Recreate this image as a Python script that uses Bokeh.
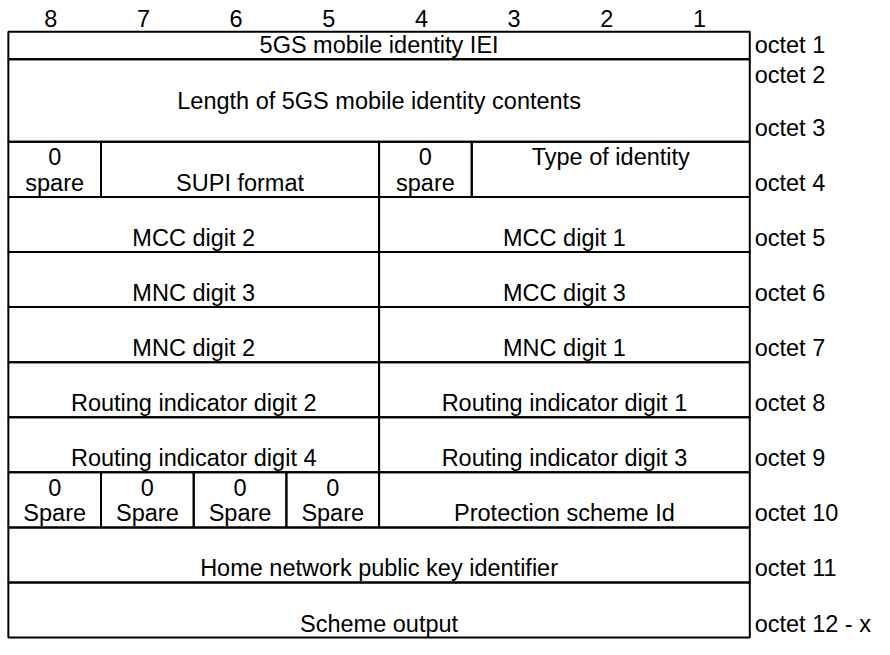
from bokeh.plotting import figure
from bokeh.models import Range1d, ColumnDataSource
from bokeh.embed import file_html
from bokeh.resources import INLINE
from bokeh.core.properties import value

# ---- data ----
bit_labels = ["8", "7", "6", "5", "4", "3", "2", "1"]
bit_numbers = [8, 7, 6, 5, 4, 3, 2, 1]

# rows of the table, height in line units
row_units = [1, 3, 2, 2, 2, 2, 2, 2, 2, 2, 2]

octet_labels = ["octet 1", "octet 2", "octet 3", "octet 4", "octet 5", "octet 6",
                "octet 7", "octet 8", "octet 9", "octet 10", "octet 11", "octet 12 - x"]
octet_rows = [0, 1, 1, 2, 3, 4, 5, 6, 7, 8, 9, 10]
octet_line = [0, 2, 0, 0, 0, 0, 0, 0, 0, 0, 0, 0]   # text line counted from bottom of row

cell_rows = [0, 1, 2, 2, 2, 2, 3, 3, 4, 4, 5, 5, 6, 6, 7, 7, 8, 8, 8, 8, 8, 9, 10]
cell_hi = [8, 8, 8, 7, 4, 3, 8, 4, 8, 4, 8, 4, 8, 4, 8, 4, 8, 7, 6, 5, 4, 8, 8]
cell_lo = [1, 1, 8, 5, 4, 1, 5, 1, 5, 1, 5, 1, 5, 1, 5, 1, 8, 7, 6, 5, 1, 1, 1]
cell_texts = [
    ["5GS mobile identity IEI"],
    ["Length of 5GS mobile identity contents", ""],
    ["0", "spare"],
    ["SUPI format"],
    ["0", "spare"],
    ["Type of identity", ""],
    ["MCC digit 2"],
    ["MCC digit 1"],
    ["MNC digit 3"],
    ["MCC digit 3"],
    ["MNC digit 2"],
    ["MNC digit 1"],
    ["Routing indicator digit 2"],
    ["Routing indicator digit 1"],
    ["Routing indicator digit 4"],
    ["Routing indicator digit 3"],
    ["0", "Spare"],
    ["0", "Spare"],
    ["0", "Spare"],
    ["0", "Spare"],
    ["Protection scheme Id"],
    ["Home network public key identifier"],
    ["Scheme output"],
]

# ---- layout (reference pixel space 890 x 655, scaled into the figure) ----
RW, RH = 890, 655
W, H = 874, 639
X0, X1 = 8, 763
Y0, Y1 = 32, 653
FONT = "Liberation Sans"
FS = "23.5px"
LINE = 27
BOT = 6
MID = 8.4   # baseline -> vertical centre of capitals

col_w = (X1 - X0) / 8.0
unit = (Y1 - Y0) / float(sum(row_units))
row_top = []
acc = Y0
for u in row_units:
    row_top.append(acc)
    acc += u * unit
row_bot = [t + u * unit for t, u in zip(row_top, row_units)]


def bit_left(b):
    return X0 + (8 - b) * col_w


def bit_right(b):
    return X0 + (9 - b) * col_w


p = figure(width=W, height=H, x_range=Range1d(0, RW), y_range=Range1d(RH, 0),
           output_backend="svg", toolbar_location=None, min_border=0)
p.axis.visible = False
p.grid.visible = False
p.outline_line_color = None
p.background_fill_color = "white"
p.border_fill_color = "white"

# cells
cell_src = ColumnDataSource(dict(
    left=[bit_left(h) for h in cell_hi],
    right=[bit_right(l) for l in cell_lo],
    top=[row_top[r] for r in cell_rows],
    bottom=[row_bot[r] for r in cell_rows],
))
p.quad(left="left", right="right", top="top", bottom="bottom", source=cell_src,
       fill_color=None, line_color="black", line_width=2)

# cell texts
tx, ty, tt = [], [], []
for r, h, l, lines in zip(cell_rows, cell_hi, cell_lo, cell_texts):
    cx = (bit_left(h) + bit_right(l)) / 2.0
    n = len(lines)
    for i, s in enumerate(lines):
        if not s:
            continue
        k = n - 1 - i
        tx.append(cx)
        ty.append(row_bot[r] - BOT - k * LINE - MID)
        tt.append(s)
p.text(x=tx, y=ty, text=tt, text_align="center", text_baseline="middle",
       text_font=value(FONT), text_font_size=FS, text_color="black")

# bit numbers
p.text(x=[(bit_left(b) + bit_right(b)) / 2.0 - 4 for b in bit_numbers],
       y=[27 - MID] * 8, text=bit_labels, text_align="center",
       text_baseline="middle", text_font=value(FONT), text_font_size=FS,
       text_color="black")

# octet labels
p.text(x=[X1 + 5] * len(octet_labels),
       y=[row_bot[r] - BOT - k * LINE - MID for r, k in zip(octet_rows, octet_line)],
       text=octet_labels, text_align="left", text_baseline="middle",
       text_font=value(FONT), text_font_size=FS, text_color="black")

open("out.html", "w").write(file_html(p, INLINE))
